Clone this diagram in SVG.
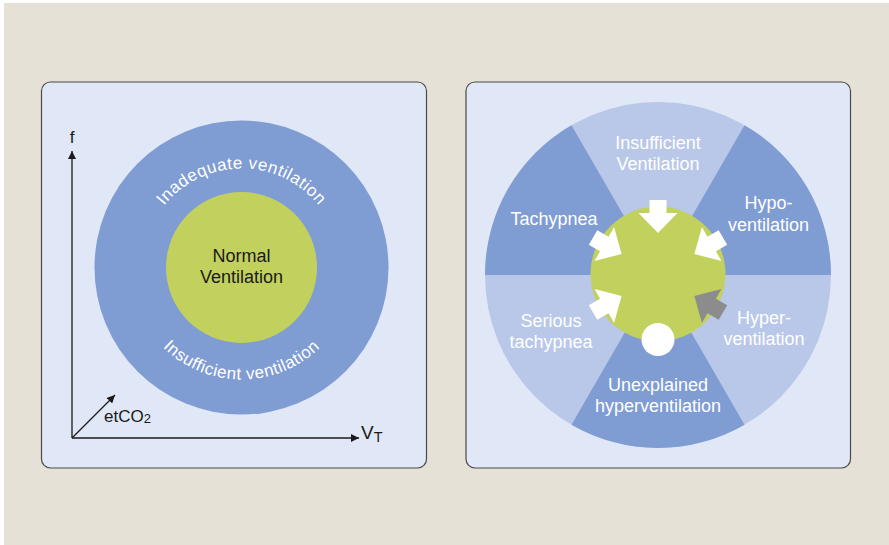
<svg xmlns="http://www.w3.org/2000/svg" width="889" height="545" viewBox="0 0 889 545">
<defs>
<style>
.panel{fill:#E0E7F6;stroke:#4a4a4a;stroke-width:1.2}
.t{font-family:"Liberation Sans",Arial,sans-serif}
.w{fill:#ffffff;font-size:18px;text-anchor:middle}
.k{fill:#1a1a1a}
.arc{fill:#ffffff;font-size:17px;letter-spacing:0.5px}
.ax{stroke:#1a1a1a;stroke-width:1.3;fill:none}
.dark{fill:#7F9CD3}
.light{fill:#B9C8E8}
.arr{fill:#ffffff}
</style>
<marker id="ah" viewBox="0 0 10 10" refX="10" refY="5" markerWidth="8" markerHeight="8" markerUnits="userSpaceOnUse" orient="auto">
<path d="M0,0 L10,5 L0,10 Z" fill="#1a1a1a"/>
</marker>
<path id="topArc" d="M142.5,267.5 A99,99 0 0 1 340.5,267.5"/>
<path id="botArc" d="M129.5,267.5 A112,112 0 0 0 353.5,267.5"/>
<polygon id="blk" points="-8.5,-33 8.5,-33 8.5,-20 19.5,-20 0,0 -19.5,-20 -8.5,-20"/>
</defs>
<rect x="0" y="0" width="889" height="545" fill="#ffffff"/>
<rect x="4" y="3" width="885" height="542" fill="#E5E1D6"/>

<!-- Left panel -->
<g id="left-panel">
<rect class="panel" x="41.5" y="82" width="385" height="386" rx="9"/>
</g>
<g id="outer-ring">
<circle cx="241.5" cy="267.5" r="147" fill="#7F9CD3"/>
<text class="t arc"><textPath href="#topArc" startOffset="50%" text-anchor="middle">Inadequate ventilation</textPath></text>
<text class="t arc"><textPath href="#botArc" startOffset="50%" text-anchor="middle">Insufficient ventilation</textPath></text>
</g>
<g id="normal">
<circle cx="241.5" cy="267.5" r="75.5" fill="#C2D05E"/>
<text class="t k" font-size="18" text-anchor="middle"><tspan x="241.5" y="262">Normal</tspan><tspan x="241.5" y="283">Ventilation</tspan></text>
</g>
<g id="axes">
<line class="ax" x1="72" y1="438" x2="72" y2="151" marker-end="url(#ah)"/>
<line class="ax" x1="72" y1="438" x2="359" y2="438" marker-end="url(#ah)"/>
<line class="ax" x1="72" y1="438" x2="115" y2="395" marker-end="url(#ah)"/>
<text class="t k" x="72" y="143" font-size="17" text-anchor="middle">f</text>
<text class="t k" x="104" y="422" font-size="17">etCO<tspan font-size="13" dy="1">2</tspan></text>
<text class="t k" x="361" y="438.5" font-size="19">V<tspan font-size="14.5" dy="3">T</tspan></text>
</g>

<!-- Right panel -->
<g id="right-panel">
<rect class="panel" x="466" y="82" width="384.5" height="386" rx="9"/>
</g>
<g id="wheel">
<circle class="light" cx="658" cy="275" r="173"/>
<path class="dark" d="M658,275 L744.5,125.2 A173,173 0 0 1 831,275 Z"/>
<path class="dark" d="M658,275 L744.5,424.8 A173,173 0 0 1 571.5,424.8 Z"/>
<path class="dark" d="M658,275 L485,275 A173,173 0 0 1 571.5,125.2 Z"/>
</g>
<g id="insufficient-ventilation"><text class="t w"><tspan x="658" y="149">Insufficient</tspan><tspan x="658" y="170">Ventilation</tspan></text></g>
<g id="tachypnea"><text class="t w" x="554" y="225">Tachypnea</text></g>
<g id="hypoventilation"><text class="t w"><tspan x="768.5" y="209">Hypo-</tspan><tspan x="768.5" y="230.5">ventilation</tspan></text></g>
<g id="serious-tachypnea"><text class="t w"><tspan x="551" y="327">Serious</tspan><tspan x="551" y="348">tachypnea</tspan></text></g>
<g id="hyperventilation"><text class="t w"><tspan x="764" y="323.5">Hyper-</tspan><tspan x="764" y="345">ventilation</tspan></text></g>
<g id="unexplained-hyperventilation"><text class="t w"><tspan x="658" y="391">Unexplained</tspan><tspan x="658" y="412">hyperventilation</tspan></text></g>
<g id="center">
<circle cx="658" cy="274" r="67.5" fill="#C2D05E"/>
<circle cx="658" cy="339.5" r="16.5" fill="#ffffff"/>
</g>
<g id="connectors">
<use href="#blk" class="arr" transform="translate(658,275) rotate(0) translate(0,-42)"/>
<use href="#blk" class="arr" transform="translate(658,275) rotate(60) translate(0,-42)"/>
<use href="#blk" class="arr" transform="translate(658,275) rotate(-60) translate(0,-42)"/>
<use href="#blk" class="arr" transform="translate(658,275) rotate(-120) translate(0,-42)"/>
<use href="#blk" fill="#8C8C8C" transform="translate(658,275) rotate(120) translate(0,-42)"/>
</g>
</svg>
